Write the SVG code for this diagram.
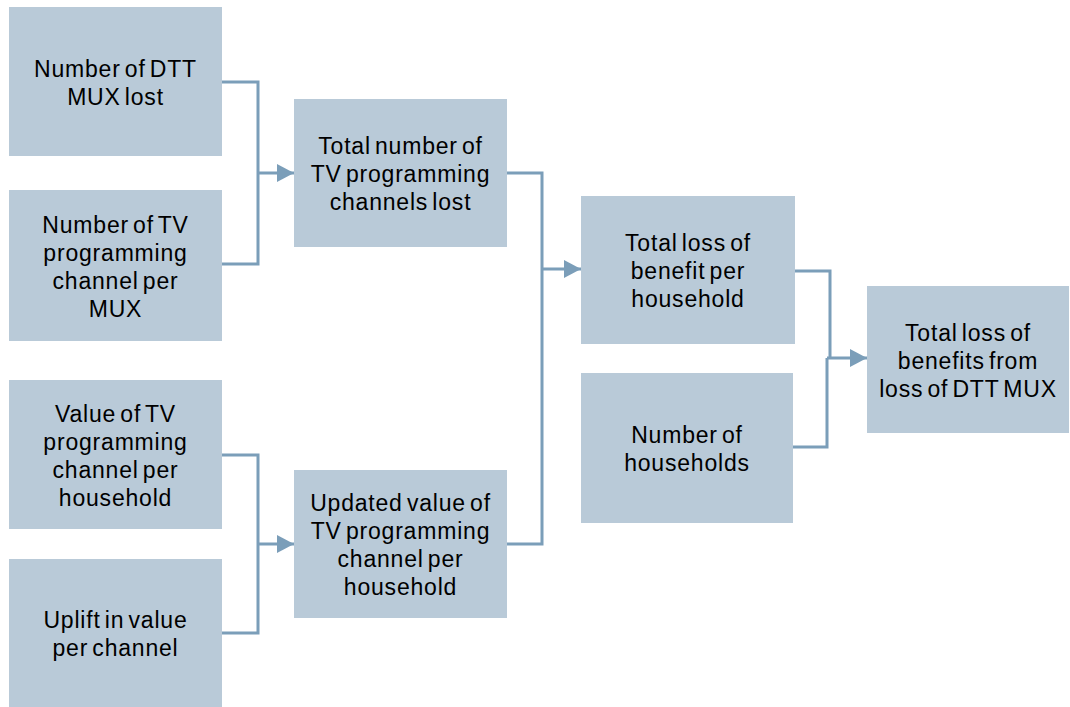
<svg xmlns="http://www.w3.org/2000/svg" width="1070" height="707" viewBox="0 0 1070 707">
  <defs>
    <style>
      .box { fill: #b9cad8; }
      .lbl { font-family: "Liberation Sans", Arial, sans-serif; font-size: 23px; fill: #000; text-anchor: middle; word-spacing: -3px; letter-spacing: 0.8px; }
      .wire { fill: none; stroke: #7b9eb9; stroke-width: 3; }
    </style>
    <marker id="arrow" viewBox="0 0 17 18" refX="17" refY="9" markerWidth="17" markerHeight="18" markerUnits="userSpaceOnUse" orient="auto">
      <path d="M0,0 L17,9 L0,18 Z" fill="#7b9eb9"/>
    </marker>
  </defs>
  <rect width="1070" height="707" fill="#fff"/>

  <g id="connectors">
    <path class="wire" d="M222,82 H258 V264 H222"/>
    <path class="wire" d="M258,173 H294" marker-end="url(#arrow)"/>
    <path class="wire" d="M222,455 H258 V633 H222"/>
    <path class="wire" d="M258,544 H294" marker-end="url(#arrow)"/>
    <path class="wire" d="M507,173 H542 V544 H507"/>
    <path class="wire" d="M542,269 H581" marker-end="url(#arrow)"/>
    <path class="wire" d="M795,271 H830 V358"/>
    <path class="wire" d="M793,447 H827 V358"/>
    <path class="wire" d="M827,358 H867" marker-end="url(#arrow)"/>
  </g>

  <g id="n-dtt-mux-lost">
    <rect class="box" x="9" y="7" width="213" height="149"/>
    <text class="lbl" x="115.5" y="77"><tspan x="115.5">Number of DTT</tspan><tspan x="115.5" dy="28">MUX lost</tspan></text>
  </g>
  <g id="n-channels-per-mux">
    <rect class="box" x="9" y="190" width="213" height="151"/>
    <text class="lbl" x="115.5" y="232.5"><tspan x="115.5">Number of TV</tspan><tspan x="115.5" dy="28">programming</tspan><tspan x="115.5" dy="28">channel per</tspan><tspan x="115.5" dy="28">MUX</tspan></text>
  </g>
  <g id="n-value-per-household">
    <rect class="box" x="9" y="380" width="213" height="149"/>
    <text class="lbl" x="115.5" y="421.5"><tspan x="115.5">Value of TV</tspan><tspan x="115.5" dy="28">programming</tspan><tspan x="115.5" dy="28">channel per</tspan><tspan x="115.5" dy="28">household</tspan></text>
  </g>
  <g id="n-uplift">
    <rect class="box" x="9" y="559" width="213" height="148"/>
    <text class="lbl" x="115.5" y="628"><tspan x="115.5">Uplift in value</tspan><tspan x="115.5" dy="28">per channel</tspan></text>
  </g>
  <g id="n-total-channels-lost">
    <rect class="box" x="294" y="99" width="213" height="148"/>
    <text class="lbl" x="400.5" y="154"><tspan x="400.5">Total number of</tspan><tspan x="400.5" dy="28">TV programming</tspan><tspan x="400.5" dy="28">channels lost</tspan></text>
  </g>
  <g id="n-updated-value">
    <rect class="box" x="294" y="470" width="213" height="148"/>
    <text class="lbl" x="400.5" y="511"><tspan x="400.5">Updated value of</tspan><tspan x="400.5" dy="28">TV programming</tspan><tspan x="400.5" dy="28">channel per</tspan><tspan x="400.5" dy="28">household</tspan></text>
  </g>
  <g id="n-loss-per-household">
    <rect class="box" x="581" y="196" width="214" height="148"/>
    <text class="lbl" x="688" y="251"><tspan x="688">Total loss of</tspan><tspan x="688" dy="28">benefit per</tspan><tspan x="688" dy="28">household</tspan></text>
  </g>
  <g id="n-households">
    <rect class="box" x="581" y="373" width="212" height="150"/>
    <text class="lbl" x="687" y="443"><tspan x="687">Number of</tspan><tspan x="687" dy="28">households</tspan></text>
  </g>
  <g id="n-total-loss">
    <rect class="box" x="867" y="286" width="202" height="147"/>
    <text class="lbl" x="968" y="341"><tspan x="968">Total loss of</tspan><tspan x="968" dy="28">benefits from</tspan><tspan x="968" dy="28">loss of DTT MUX</tspan></text>
  </g>
</svg>
